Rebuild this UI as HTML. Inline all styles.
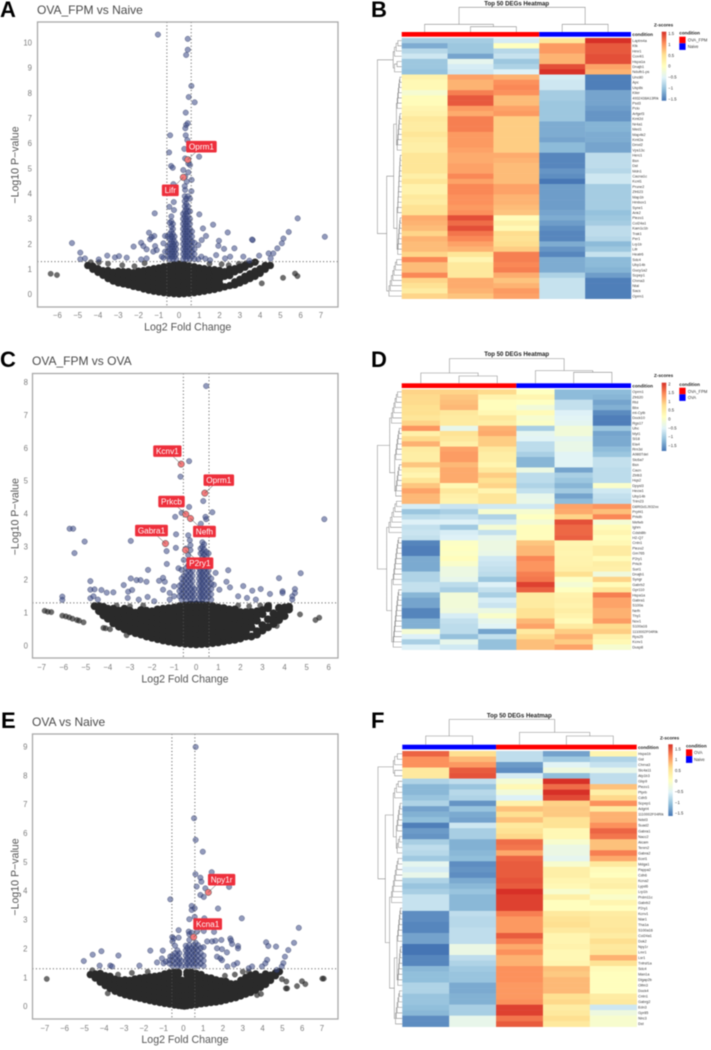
<!DOCTYPE html>
<html lang="en">
<head>
<meta charset="utf-8">
<title>Volcano plots and Top 50 DEG heatmaps</title>
<style>
html,body{margin:0;padding:0;background:#fff}
svg{display:block;font-family:"Liberation Sans",sans-serif;filter:blur(.5px)}
.panel-letter{font-size:22px;font-weight:bold;fill:#000}
.plot-title{font-size:12px;fill:#4a4a4a}
.axis-title{font-size:10.6px;fill:#555;text-anchor:middle}
.heat-title{font-size:6.1px;font-weight:bold;fill:#222;text-anchor:middle}
.bold-small{font-size:4.6px;font-weight:bold;fill:#222}
.small{font-size:4.2px;fill:#333}
</style>
</head>
<body>
<svg id="fig" xmlns="http://www.w3.org/2000/svg" width="711" height="1050" viewBox="0 0 711 1050">
<defs>
<linearGradient id="heatRamp" x1="0" y1="0" x2="0" y2="1">
<stop offset="0" stop-color="#D73027"/><stop offset=".167" stop-color="#FC8D59"/><stop offset=".333" stop-color="#FEE090"/><stop offset=".5" stop-color="#FFFFBF"/><stop offset=".667" stop-color="#E0F3F8"/><stop offset=".833" stop-color="#91BFDB"/><stop offset="1" stop-color="#4575B4"/>
</linearGradient>
</defs>
<rect width="711" height="1050" fill="#fff"/>

<text class="panel-letter" x="0" y="17">A</text>
<text class="panel-letter" x="371" y="17">B</text>
<text class="panel-letter" x="0" y="367">C</text>
<text class="panel-letter" x="371" y="367">D</text>
<text class="panel-letter" x="1" y="728">E</text>
<text class="panel-letter" x="371" y="728">F</text>

<text class="plot-title" x="37" y="14">OVA_FPM vs Naive</text>
<text class="axis-title" x="187.7" y="330.5">Log2 Fold Change</text>
<text class="axis-title" transform="translate(18.5,165) rotate(-90)">−Log10 P−value</text>

<text class="plot-title" x="32" y="365">OVA_FPM vs OVA</text>
<text class="axis-title" x="185" y="682.5">Log2 Fold Change</text>
<text class="axis-title" transform="translate(18.5,516.7) rotate(-90)">−Log10 P−value</text>

<text class="plot-title" x="32" y="726">OVA vs Naive</text>
<text class="axis-title" x="185" y="1043">Log2 Fold Change</text>
<text class="axis-title" transform="translate(18.5,877) rotate(-90)">−Log10 P−value</text>

<text class="heat-title" x="516.7" y="5.5">Top 50 DEGs Heatmap</text>
<text class="bold-small" x="632.3" y="36.2">condition</text>
<text class="bold-small" x="654" y="26.5">Z-scores</text>
<rect x="661.7" y="31.7" width="4.6" height="69" fill="url(#heatRamp)"/>
<text class="bold-small" x="679.3" y="34.5">condition</text>
<rect x="679.3" y="36.7" width="6.3" height="6.6" fill="#f00"/>
<rect x="679.3" y="43.3" width="6.3" height="6.6" fill="#00f"/>
<text class="small" x="687.7" y="41.5">OVA_FPM</text>
<text class="small" x="687.7" y="48">Naive</text>

<text class="heat-title" x="516.7" y="356">Top 50 DEGs Heatmap</text>
<text class="bold-small" x="632.3" y="387.3">condition</text>
<text class="bold-small" x="654" y="377.2">Z-scores</text>
<rect x="661.7" y="382.7" width="4.6" height="68.3" fill="url(#heatRamp)"/>
<text class="bold-small" x="679.3" y="386">condition</text>
<rect x="679.3" y="387.7" width="6.3" height="6.6" fill="#f00"/>
<rect x="679.3" y="394.3" width="6.3" height="6.6" fill="#00f"/>
<text class="small" x="687.7" y="393">OVA_FPM</text>
<text class="small" x="687.7" y="399">OVA</text>

<text class="heat-title" x="519.3" y="717.5">Top 50 DEGs Heatmap</text>
<text class="bold-small" x="638" y="749">condition</text>
<text class="bold-small" x="660" y="739.3">Z-scores</text>
<rect x="668.3" y="744.3" width="4.4" height="71.7" fill="url(#heatRamp)"/>
<text class="bold-small" x="686" y="747.5">condition</text>
<rect x="686" y="749.3" width="6.3" height="6.8" fill="#f00"/>
<rect x="686" y="756.1" width="6.3" height="6.8" fill="#00f"/>
<text class="small" x="694" y="753.8">OVA</text>
<text class="small" x="694" y="760.8">Naive</text>
</svg>

<script>
/* ---------- Volcano A: OVA_FPM vs Naive ---------- */
const aXTicks=[-6,-5,-4,-3,-2,-1,0,1,2,3,4,5,6,7];
const aYTicks=[0,1,2,3,4,5,6,7,8,9,10];
const aHitGenes=["Oprm1","Lifr"];
const aHitFC=[0.43,0.21];
const aHitP=[5.35,4.65];
/* each column: [log2FC, -log10P, -log10P, ...] */
const aNsOutliers=[[-6.33,.82],[-6.02,.77],[5.72,.83],[5.84,.73],[5.13,.66],[4.08,.44],[-3.5,1.22],[-2.8,1.16],[-2.2,1.12],[-1.7,1.24],[1.5,1.22],[2.1,1.2],[2.45,1.16],[2.95,1.22],[3.3,1.24],[-4.35,1.28],[-3.95,1.28]];
const aNsColumns=[[-4.5,1.15],[-4.25,1,1.12],[-4,.88,1.02],[-3.75,.76,.94],[-3.5,.63,.8,.95],[-3.25,.53,.7,.88],[-3,.46,.64,.82,.92],[-2.75,.42,.6,.78,.9],[-2.5,.38,.56,.74,.9],[-2.25,.32,.5,.68,.86],[-2,.28,.46,.64,.82,.92],[-1.75,.22,.4,.58,.76,.94],[-1.5,.17,.35,.53,.71,.89,.98],[-1.25,.13,.31,.49,.67,.85,1.02],[-1,.1,.28,.46,.64,.82,1,1.05],[-.75,.07,.25,.43,.61,.79,.97,1.1],[-.5,.05,.23,.41,.59,.77,.95,1.13],[-.25,.03,.21,.39,.57,.75,.93,1.11,1.18],[0,.02,.2,.38,.56,.74,.92,1.1,1.2],[.25,.03,.21,.39,.57,.75,.93,1.11,1.18],[.5,.05,.23,.41,.59,.77,.95,1.13],[.75,.07,.25,.43,.61,.79,.97,1.1],[1,.1,.28,.46,.64,.82,1,1.05],[1.25,.13,.31,.49,.67,.85,1.02],[1.5,.17,.35,.53,.71,.89,.98],[1.75,.2,.38,.56,.74,.92,.98],[2,.25,.43,.61,.79,.95],[2.25,.3,.72,.9],[2.5,.35,.75,.92,1],[2.75,.38,.5,.9,1.02],[3,.46,.6,.98,1.08],[3.25,.54,.72,1.08,1.16],[3.5,.63,.82,1.2],[3.75,.72,.92,1.28],[4,.84,1.02],[4.25,1,1.15],[4.5,1.15]];
const aSigColumns=[[-1.04,10.32],[.43,10.15,9.72],[.35,9.51],[.61,8.28],[.48,7.84],[.77,7.63],[.33,7.22,6.32],[.35,6.73],[.31,6.6],[.43,6.8],[-.44,6.32],[.41,6.13],[-.49,5.64],[.26,5.78],[.99,5.47],[-.39,5.1],[-.31,5.03],[.3,5.4,4.68,4.15],[.46,5.2,4.85],[.54,5.14],[.21,4.94],[.62,4.55],[.38,4.48],[-.28,4.38],[.61,4.1],[-.26,3.67],[-.48,3.48],[-1.2,3.22],[1,3.18],[-.25,3.35],[1.68,2.77],[1.18,2.62],[2.4,2.46],[5.85,3.02],[5.41,2.48],[7.19,2.29],[-5.28,2.04],[-4.87,1.66,1.4],[-4.64,1.43],[-3.96,1.39],[-3.54,1.54],[-3.16,1.47],[-2.96,1.52],[-2.58,1.46],[-2.24,1.9],[-1.87,2.05,1.39],[-1.76,1.92],[-1.6,1.79,1.43],[-1.48,2.45],[-1.35,2.27],[-1.22,2.32],[-1.43,2.19],[-1.18,1.92],[-1.1,1.76],[-1.27,1.7],[-.77,2.03,1.45],[-.69,2.32,1.7],[-.85,1.5],[1.12,2.16],[1.33,2.32],[.95,1.96,1.4],[1.97,2.13],[1.94,1.93],[2.22,1.81],[2.73,1.83],[3.63,2.16],[3.6,2.18],[1.83,1.56],[1.53,1.36],[2.52,1.5],[2.27,1.43],[3.17,1.5],[3.95,1.54],[3.47,1.34],[4.42,1.63],[5.15,2.22],[5.07,2.03],[4.85,1.83],[4.65,1.63],[4.52,1.43],[1.1,1.5],[1.3,1.42],
[.2,1.4,1.6,1.8,2,2.2,2.4,2.6,2.8,3,3.2],[.28,1.5,1.7,1.9,2.1,2.3,2.5,2.7,2.9,3.1,3.3,3.5,3.7,3.9,4.3],[.36,1.4,1.6,1.8,2,2.2,2.4,2.6,2.8,3,3.2,3.4,3.6,3.8],[.44,1.5,1.7,1.9,2.1,2.3,2.5,2.7,2.9,3.1,3.3,3.5,3.9],[.54,1.4,1.6,1.8,2,2.2,2.4,2.6,2.8,3,3.3,3.8],[.64,1.5,1.7,1.9,2.1,2.3,2.5],[.76,1.4,1.6,1.8,2.05],
[-.14,1.4,1.6,1.8,2],[-.22,1.5,1.7,1.9,2.1,2.3],[-.3,1.4,1.6,1.8,2,2.2,2.4,2.6,2.8],[-.38,1.5,1.7,1.9,2.1,2.3,2.5,2.7,2.9,3.1],[-.46,1.4,1.6,1.8,2,2.2,2.4,2.85],[-.56,1.5,1.7,1.9,2.3]];

/* ---------- Volcano C: OVA_FPM vs OVA ---------- */
const cXTicks=[-7,-6,-5,-4,-3,-2,-1,0,1,2,3,4,5,6];
const cYTicks=[0,1,2,3,4,5,6,7,8];
const cHitGenes=["Kcnv1","Oprm1","Prkcb","Nefh","Gabra1","P2ry1"];
const cHitFC=[-.68,.39,-.47,-.26,-1.39,-.48];
const cHitP=[5.51,4.63,3.99,3.86,3.1,2.9];
const cNsOutliers=[[-6.86,1.06],[-6.72,1.03],[-6.56,1.02],[-6.06,.91],[-5.9,.89],[-5.75,.86],[-5.6,.82],[-5.4,.78],[-5.3,.76],[-5.1,.71],[-4.2,.54],[-4.1,.53],[-3.9,.5],[4.7,.95],[5.4,.78],[5.57,.85],[-3.6,1.22],[-3,1.2],[-2.4,1.22],[1.9,1.22],[2.4,1.2],[2.9,1.22],[3.3,1.24],[-3.15,.32],[3.65,.6]];
const cNsColumns=[[-4.6,1.2],[-4.4,1.05,1.2],[-4.2,.92,1.06,1.18],[-4,.82,.98,1.12],[-3.75,.68,.84,1,1.12],[-3.5,.58,.74,.9,1.06],[-3.25,.5,.66,.82,.98,1.12],[-3,.44,.6,.76,.92,1.06],[-2.75,.38,.54,.7,.86,1],[-2.5,.34,.5,.66,.82,.98,1.08],[-2.25,.28,.44,.6,.76,.92,1.06],[-2,.24,.4,.56,.72,.88,1.04],[-1.75,.2,.36,.52,.68,.84,1,1.1],[-1.5,.16,.32,.48,.64,.8,.96,1.12],[-1.25,.13,.29,.45,.61,.77,.93,1.09,1.14],[-1,.1,.26,.42,.58,.74,.9,1.06,1.16],[-.75,.08,.24,.4,.56,.72,.88,1.04,1.2],[-.5,.06,.22,.38,.54,.7,.86,1.02,1.18,1.22],[-.25,.05,.21,.37,.53,.69,.85,1.01,1.17,1.25],[0,.04,.2,.36,.52,.68,.84,1,1.16,1.25],[.25,.05,.21,.37,.53,.69,.85,1.01,1.17,1.25],[.5,.06,.22,.38,.54,.7,.86,1.02,1.18,1.22],[.75,.08,.24,.4,.56,.72,.88,1.04,1.2],[1,.1,.26,.42,.58,.74,.9,1.06,1.16],[1.25,.13,.29,.45,.61,.77,.93,1.09,1.14],[1.5,.16,.32,.48,.64,.8,.96,1.1],[1.75,.18,.34,.5,.66,.82,.98,1.1],[2,.22,.38,.54,.7,.86,1.02],[2.25,.28,.44,.6,.76,.92,1.02],[2.5,.28,.56,.72,.88,1.02],[2.75,.34,.44,.76,.92,1.04],[3,.46,.62,.96,1.08],[3.25,.56,.8,1.14,1.2],[3.5,.66,.82,.98],[3.75,.78,.94,1.15],[4,.9,1.05,1.16],[4.2,1.1,1.18]];
const cSigColumns=[[.45,7.88,3.84],[-.32,5.6,4.21],[-.71,5.13],[.32,4.39],[.73,4.05],[-.66,4.03],[-.95,3.91],[.42,3.91],[.21,3.7],[5.8,3.84],[-5.73,3.55],[-5.57,3.55],[-5.05,3.16],[-5.51,2.81],[-2.96,3.18,2.04],[-.91,3.38],[-.36,3.35],[-.29,3.2],[-.92,2.97],[-1.34,2.87],[-1.33,2.48],[-2.18,2.3],[-.8,2.35],[1.45,2.29],[.88,2.21],[4.73,2.2],[3.75,2.05],[-4.79,1.96,1.7,1.44],[-2.7,1.99],[-2.52,1.99],[-2.25,1.94],[-1.5,2.06],[-1.68,1.97],[-1.42,1.94],[-3.28,1.84],[-3.08,1.64],[-2.9,1.69],[-4.29,1.69],[-4.05,1.61],[-3.75,1.62],[-4.6,1.71],[-4.65,1.5],[-6.06,1.49,1.39],[1.37,1.94],[1.53,1.77],[2.13,1.81],[2.92,1.72],[2.54,1.67],[3.34,1.57],[3.91,1.65,1.6],[4.47,1.72,1.6],[4.35,1.5,1.4],[1.05,1.7],[.8,1.85],[1.9,1.5],[2.3,1.45],[2.7,1.4],[-3.1,1.45],[-2.6,1.4],[-2.2,1.48],[-1.9,1.35],[-1.5,1.7],[-1.2,1.6,1.4],[-1,1.8,1.5],[-4.45,1.4],
[.12,1.4,1.56,1.72,1.88,2.04,2.2,2.36],[.2,1.48,1.64,1.8,1.96,2.12,2.28,2.44,2.6,2.8,2.95],[.28,1.4,1.56,1.72,1.88,2.04,2.2,2.36,2.52,2.68,2.84,3,3.14],[.36,1.48,1.64,1.8,1.96,2.12,2.28,2.44,2.6,2.76,2.92,3.08],[.46,1.4,1.56,1.72,1.88,2.04,2.2,2.36,2.52,2.7,2.85],[.56,1.48,1.64,1.8,1.96,2.12,2.28,2.8],[.68,1.4,1.56,1.72,1.88,2.04],
[-.08,1.4,1.56,1.72],[-.16,1.48,1.64,1.8,1.96,2.12,2.28],[-.26,1.4,1.56,1.72,1.88,2.04,2.2,2.36,2.9,3.05],[-.36,1.48,1.64,1.8,1.96,2.12,2.28,2.44,2.75],[-.46,1.4,1.56,1.72,1.88,2.04,2.2,2.36,2.95],[-.56,1.48,1.64,1.8,1.96,2.12,2.6],[-.66,1.4,1.56,1.72,1.88,2.04,2.3],[-.76,1.5,1.66,1.82]];

/* ---------- Volcano E: OVA vs Naive ---------- */
const eXTicks=[-7,-6,-5,-4,-3,-2,-1,0,1,2,3,4,5,6,7];
const eYTicks=[0,1,2,3,4,5,6,7,8,9];
const eHitGenes=["Npy1r","Kcna1"];
const eHitFC=[1.26,.52];
const eHitP=[3.95,2.4];
const eNsOutliers=[[-6.9,.95],[7.09,.96],[7.02,.96],[5.24,.62],[5.18,.62],[5.74,.7],[5.99,.87],[6.16,.77],[4.98,.94],[5.2,.86],[3.72,.39],[3.92,.43],[-3.82,.45],[-4.6,1.25],[-3.3,1.1],[-2.6,1.16],[-1.8,1.2],[2.1,1.06],[2.6,1.1],[3,1.2],[3.3,1.2]];
const eNsColumns=[[-4.7,1.1],[-4.45,.98,1.12],[-4.2,.84,1,1.14],[-3.95,.72,.9,1.06],[-3.7,.62,.78,.96,1.04],[-3.45,.52,.7,.88,.94],[-3.2,.46,.64,.82,.9],[-2.95,.4,.58,.76,.92],[-2.7,.36,.54,.72,.9],[-2.45,.32,.5,.68,.86,.95],[-2.2,.28,.46,.64,.82,.98],[-1.95,.24,.42,.6,.78,.96,1],[-1.7,.2,.38,.56,.74,.92,1.02],[-1.45,.16,.34,.52,.7,.88,1.04],[-1.2,.13,.31,.49,.67,.85,1.03,1.06],[-.95,.1,.28,.46,.64,.82,1,1.12],[-.7,.08,.26,.44,.62,.8,.98,1.16],[-.45,.05,.23,.41,.59,.77,.95,1.13,1.18],[-.25,.03,.21,.39,.57,.75,.93,1.11,1.18],[-.08,.02,.2,.38,.56,.74,.9],[.05,.01,.19,.37,.55,.73,.88],[.18,.02,.2,.38,.56,.74,.92,1.1,1.18],[.4,.04,.22,.4,.58,.76,.94,1.12,1.18],[.65,.06,.24,.42,.6,.78,.96,1.14],[.9,.09,.27,.45,.63,.81,.99,1.1],[1.15,.11,.29,.47,.65,.83,1],[1.4,.13,.31,.49,.67,.85,.98],[1.65,.15,.33,.51,.69,.87,.92],[1.9,.18,.36,.54,.72,.88],[2.15,.22,.4,.58,.76,.86],[2.4,.26,.44,.62,.78],[2.65,.3,.48,.66,.78],[2.9,.36,.54,.72,.9],[3.15,.42,.6,.78,1],[3.4,.48,.66,.84,1.08],[3.65,.56,.74,.92,1.12],[3.9,.66,.84,1.02],[4.15,.76,.94,1.12],[4.4,.9,1.08],[4.65,1.06,1.16],[4.85,1.2]];
const eSigColumns=[[.62,8.99,5.77],[.54,6.52],[.98,5.36],[.61,4.58],[.86,4.46,3.86],[.91,4.32],[1.43,4.65],[2.31,4.14],[.67,4.15],[1.11,4.09],[1.03,3.79,2.61],[-.66,3.71],[1.75,3.39],[.42,3.48,3.34],[.57,3.4,3.1],[2.95,3.05],[5.83,2.72],[.3,3.02],[1.06,3.05],[-.24,2.64,2.38],[.27,2.59],[1.55,2.58],[.69,2.59],[-.56,2.4],[-.49,2.35],[1.2,2.25],[1.45,2.25],[1.62,2.27],[2.37,2.35],[2.41,2.28],[2.46,2.16],[4.18,2.22],[4.29,2.09],[4.68,2.07],[5.59,2.2],[5.3,1.95],[2.76,2.09,2.01],[1.92,2.3],[1.7,2.01],[1.95,1.98],[-1.67,1.93],[-1.04,1.93],[-4.14,1.91],[-4.58,1.79],[-5.03,1.57],[-3.28,1.76],[-4.23,1.41],[-3.69,1.41],[-3.6,1.38],[-2.22,1.41],[-1.33,1.52],[-1.08,1.66],[-1,1.49],[-.88,1.55],[-.66,1.73],[5.13,1.72],[5.05,1.5],[4.97,1.38],[4.72,1.26],[4.23,1.61],[4.14,1.49],[3.97,1.38],[2.55,1.44],[2.72,1.5],[2.22,1.38],[1.7,1.72],[1.87,1.66],[1.95,1.6],[2.2,1.87],[3.3,1.32],[3.47,1.38],
[.12,1.4,1.58,1.76,1.94,2.1],[.2,1.48,1.66,1.84,2.02],[.3,1.4,1.58,1.76,1.94,2.12,2.3,2.5],[.42,1.48,1.66,1.84,2.02,2.55],[.52,1.4,1.58,1.76,1.94,2.12],[.62,1.48,1.66,1.84,2.02,2.2],[.74,1.4,1.58,1.76,1.94,2.12],[.88,1.48,1.66,1.84,2.02],[1.02,1.4,1.58,1.76,2.05],
[-.1,1.4,1.58],[-.2,1.48,1.66,1.84],[-.3,1.4,1.58,1.76,1.94],[-.42,1.48,1.66,1.84,2.1],[-.55,1.4,1.58,1.76,2.25],[-.7,1.48,1.6]];

/* ---------- Heatmap B ---------- */
const bGenes=["Laptm4a","Ktk","Hmr1","Cox4i1","Hspa1a","Dnajb1","Ndufb1-ps","Unc80","Apc","Usp8s","Kiler","4932438A13Rik","Psd3","Pclo","Arfgef3","Kmt2d","Nr4a1","Med1","Map4k2","Kmt2a","Dmxl2","Vps13c","Herc1","Bsn","Dst","Mdn1","Cacna1c","Kcnt1","Prune2","Zfr623","Map1b","Hmbox1","Syne1","Ank2","Piezo1","Col24a1","Kam1c1b","Trak1","Per1","Lrp1b","Lifr","Heatr6","Sdc4","Ubp14b","Gucy1a2","Scpep1","Chrna3","Ntal","Sacs","Oprm1"];
const bLegendTicks=[1.5,1,0.5,0,-0.5,-1,-1.5];
const bZ=[[-.85,-.85,-.55,.4,1.5],[-1.1,-.9,0,.9,1.25],[-.75,-.9,-.75,.9,1.25],[-.6,-1.15,-.65,.75,1.3],[-.9,-.4,-.9,.75,1.3],[-.9,-.55,-.8,1.3,.85],[-.95,-.6,-.5,1.45,.75],[.2,.85,.75,-.55,-1.4],[.1,.75,.95,-.6,-1.4],[.1,.75,1,-.6,-1.4],[-.15,1.05,.95,-.85,-1.15],[.05,1.25,.7,-.85,-1.15],[.05,1.25,.7,-.9,-1.15],[.15,.9,.85,-.9,-1.2],[.2,.8,.9,-.9,-1.25],[.35,1.05,.6,-.9,-1.25],[.3,1.05,.6,-1.1,-1.05],[.3,1.05,.6,-1.1,-1.05],[.4,.9,.6,-1.1,-1.1],[.3,.9,.6,-1.15,-1.1],[.25,.9,.6,-1,-1.15],[.25,.85,.6,-1,-1.15],[.4,.8,.8,-1.35,-.7],[.4,.8,.75,-1.35,-.7],[.4,.85,.7,-1.35,-.7],[.4,.85,.7,-1.25,-.75],[.25,1,.7,-1.3,-.6],[.4,.85,.7,-1.45,-.6],[.2,1,.85,-1.2,-.85],[.2,1,.85,-1.2,-.85],[.35,.95,.75,-1.2,-.85],[.3,.95,.75,-1.2,-.85],[.45,.9,.7,-1.2,-.85],[.45,.95,.65,-1.15,-.95],[.8,1.3,.05,-1.1,-.9],[.75,1.15,.25,-1.2,-.85],[.7,1.3,.1,-1.3,-.7],[.55,1.1,.5,-1.35,-.7],[.75,1,.45,-1.35,-.75],[.7,.85,.5,-1.1,-1],[.7,.75,.6,-1.25,-.9],[.55,.4,1.05,-1.35,-.65],[1,.15,1.05,-1.1,-1],[.7,.35,1,-1.1,-1],[.7,.35,1.05,-1.1,-1.05],[1,.35,.8,-.8,-1.2],[.55,.8,.65,-.65,-1.4],[.45,.8,.75,-.65,-1.4],[.3,.75,.9,-.65,-1.4],[.55,.65,.85,-.65,-1.4]];

/* ---------- Heatmap D ---------- */
const dGenes=["Oprm1","Zfr620","Rtd","Bbx","mt-Cytb","Dock10","Rgs17","Ubc","Myt1","Sl18","Ela4","Rrn3d","A986Tdel","Slc6a7","Bsn","Cacn","Zbtb3","Hqs2","Dpysl3","Hecw1","Ubp14b","Trim23","D8Rt3d1J932xx","Prpf41","Prkdb","Mefwb","Ighm","Cdsb8lb","H2-Q7","Cntn1","Piezo2","Gm765","P2ry1","Prkcb","Sorl1","Dnajb1","Syngr","Gabrb2","Gpr110","Hspa1a","Gabra1","S100a","Nefh","Thy1","Nov1","S100a16","1110002F04Rik","Rps25","Kcnv1","Dusp8"];
const dLegendTicks=[2,1.5,1,0.5,0,-0.5,-1,-1.5];
const dZ=[[.8,.8,.75,.1,-1.1,-1.1],[.75,.9,.35,.3,-1.1,-1.15],[.75,.95,.15,.1,-.7,-1.3],[.7,1,.15,-.15,-.7,-1.2],[.7,.55,.25,.2,-.5,-1.5],[.6,.5,.55,-.05,-.45,-1.6],[.8,.5,.45,.05,-.4,-1.6],[1.25,-.35,1.05,-.9,-.15,-1],[.4,.65,1.1,-.4,-.15,-1.3],[.75,.55,.85,-.45,-.4,-1.25],[1.05,.4,.85,-.75,-.3,-1.25],[.5,1.15,.55,-.75,-.3,-1.1],[.45,1.2,.45,-.9,-.45,-1],[.45,1.2,.45,-1.15,-.45,-.7],[.9,1,.3,-1.15,-.45,-.7],[.45,1.1,.55,-.25,-1.3,-.75],[.3,1.1,.85,-.75,-.9,-.75],[.6,1.1,.7,-.75,-1,-.75],[.9,.25,.8,-.85,-1.15,0],[1.15,.55,.3,-.7,-.95,-.6],[1,.4,.6,-.35,-1.3,-.7],[1,.35,.6,-.3,-1.1,-.75],[-.55,-.65,-.6,-.6,1.15,1.25],[-1,-.9,-.05,-.05,1.1,.95],[-.75,-.7,-.85,.1,.8,1.35],[-.5,-.5,-.6,-.1,1.7,-.1],[-.7,-.95,-.1,.15,1.55,.2],[-.65,-.55,-.7,.15,1.55,.3],[-.7,-.5,-.35,.15,1.6,.15],[-1.55,.05,-.25,.9,.3,.25],[-1.6,.1,-.25,1,.35,.5],[-1.6,.05,-.3,1,.3,.5],[-1.25,.15,-.6,1.35,.35,.2],[-1.25,0,-.65,1.25,.35,.45],[-1.25,-.25,-.7,1.25,.4,.4],[-.85,-.25,-.75,1.4,.7,-.2],[-.85,-.35,-1,1.45,.05,.8],[-.7,-.75,-.5,1.8,-.1,.2],[-.7,-.9,-.7,1.6,.1,.6],[-1.15,-.15,-.9,.5,.35,1.4],[-1.3,-.15,-.55,.5,.4,1.15],[-1.3,-.15,-.65,.5,.35,1.15],[-1.55,-.2,-.25,.65,.45,1.05],[-1.55,-.55,0,.65,.35,1.05],[-1.2,-.7,-.35,1,.2,1.2],[-1.2,-.75,-.45,1.15,.5,.75],[-.1,-.75,-1.3,.5,.85,.85],[-.5,-1.05,-.7,.75,1.05,.4],[-.9,-.35,-1.05,.95,.85,.25],[-.5,-.6,-1.05,.95,1.15,-.05]];

/* ---------- Heatmap F ---------- */
const fGenes=["Hspa1b","Gst","Chrna3","Slc4a11","Atp1b3","Gbp9","Piezo1","Ptprb","Cdh5","Scpep1","Adgrl4","1110002F04Rik","Ndst3","Suad2","Gabra1","Nacc2","Aicam","Tenm2","Gabra2","Ecel1","Mdga1","Pappa2","Cdh6","Kcna2","Lypd6","Lrp1b","Prdm11c","Gabrb2","P2ry1","Kcnv1","Nlar1","Tha1a","S100a16","Col24a1","Dok2","Npy1r","Lmr1","Lsr1","Tnfrsf1a","Sdc4","Man1a","Dlgap2b","Olfm3","Dock4","Cntn1","Gabrg2","Edn3","Gpr85","Nlrc3","Dst"];
const fLegendTicks=[1.5,1,0.5,0,-0.5,-1,-1.5];
const fZ=[[1.3,.55,-.7,-1.2,.2],[1.05,.8,-.7,-.9,-.8],[1.05,1,-1.25,-.45,-.65],[.4,1.35,-1.35,-.25,-.35],[.4,1.4,-.55,-1,-.7],[-.8,-.7,-.15,1.65,-.7],[-1.05,-.95,.15,1.25,.75],[-1.05,-.75,-.2,1.6,.3],[-.95,-.8,-.5,1.45,.6],[-.8,-1.3,.25,.65,1.05],[-1.2,-.95,.75,.7,.4],[-1.1,-1.15,.55,.7,.85],[-1,-1.2,.75,.5,.85],[-1.45,-.6,.4,.5,1.05],[-1.25,-.85,.5,.15,1.3],[-1.3,-.85,.6,.15,1.2],[-.85,-1.1,1.25,-.1,.75],[-.7,-1.1,1.2,-.3,.75],[-.75,-1.05,.9,-.3,1.15],[-.9,-1,1.3,-.4,.9],[-.4,-1.35,1.35,-.1,.4],[-.55,-1.3,1.35,.3,.1],[-.35,-1.35,1.35,.3,.05],[-.8,-1.15,1.4,.2,.25],[-.95,-1.05,1.35,.15,.3],[-.85,-.95,1.65,-.1,.1],[-.65,-1.05,1.5,.3,-.05],[-.65,-1.05,1.5,.05,.2],[-.65,-1.05,1.5,.05,.05],[-1.35,-.7,1.15,.4,.35],[-1.35,-.75,1,.5,.4],[-1.4,-.75,1,.55,.4],[-1.4,-.7,1,.4,.45],[-1.2,-.7,1.35,.2,.35],[-1.2,-.7,1.15,.2,.55],[-1.55,-.3,.9,.25,.4],[-1.55,-.3,1.05,.15,.45],[-1.4,-.7,.85,.15,.85],[-1.4,-.8,.85,.2,.5],[-1.05,-.9,1.05,.75,.1],[-1,-.95,1.05,.7,.05],[-1,-.95,1.05,.8,.05],[-.8,-1.15,1,.8,.05],[-.8,-1.15,1,.8,.05],[-.95,-1.1,1,.55,.35],[-.95,-1.1,1.05,.6,.4],[-1,-.85,1.5,.35,-.6],[-1.05,-.85,1.5,.4,-.25],[-1.35,-.35,1.2,.55,-.1],[-1.35,-.35,1.35,.4,-.1]];

/* Dendrogram shapes: [height, childA, childB]; a number is a cluster of that many leaves */
const bRowTree=[24.3,[8.5,4,3],[15,[8,[5.3,7,8],[4.7,12,8]],8]];
const dRowTree=[24.3,[12,7,[7,7,7]],[15,7,[10,10,12]]];
const fRowTree=[24.3,[9,3,2],[17,[9,4,[6,6,4]],[12.7,9,[8,[5.3,7,8],7]]]];
const bColTree=[24.7,[7.7,0,[5.3,1,2]],[7.7,3,4]];
const dColTree=[24.7,[10.3,0,[7.3,1,2]],[12.7,3,[11,4,5]]];
const fColTree=[25.3,[8.7,0,1],[12.3,2,[8.7,3,4]]];

const NS='http://www.w3.org/2000/svg';
const fig=document.getElementById('fig');
function mk(tag,parent,attrs){
  const el=document.createElementNS(NS,tag);
  for(const k in attrs)el.setAttribute(k,attrs[k]);
  parent.appendChild(el);
  return el;
}
function minus(v){return String(v).replace('-','\u2212');}

function drawVolcano(key,frame,dom,xTicks,yTicks,outliers,nsCols,sigCols,genes,hitFC,hitP,labelOffsets,tickCfg){
  const g=mk('g',fig,{});
  
  
  const X=v=>frame.l+(v-dom.x0)/(dom.x1-dom.x0)*(frame.r-frame.l);
  const Y=v=>frame.b-(v-dom.y0)/(dom.y1-dom.y0)*(frame.b-frame.t);

  outliers.forEach(col=>{
    col.slice(1).forEach(p=>{
      const c=mk('circle',g,{cx:X(col[0]),cy:Y(p),r:2.7,fill:'rgba(40,40,40,.68)',stroke:'rgba(30,30,30,.6)','stroke-width':.4});
      
      
    });
  });
  nsCols.forEach(col=>{
    col.slice(1).forEach(p=>{
      const c=mk('circle',g,{cx:X(col[0]),cy:Y(p),r:tickCfg.massR,fill:'#2a2a2a'});
      
      
    });
  });
  sigCols.forEach(col=>{
    col.slice(1).forEach(p=>{
      const c=mk('circle',g,{cx:X(col[0]),cy:Y(p),r:2.7,fill:'rgba(60,75,135,.56)',stroke:'rgba(28,38,80,.62)','stroke-width':.5});
      
      
    });
  });

  [-dom.fc,dom.fc].forEach(v=>{
    const l=mk('line',g,{x1:X(v),x2:X(v),y1:frame.t,y2:frame.b,stroke:'#555','stroke-width':1,'stroke-dasharray':'1 2.4'});
    
    
  });
  const pl=mk('line',g,{x1:frame.l,x2:frame.r,y1:Y(dom.p),y2:Y(dom.p),stroke:'#555','stroke-width':1,'stroke-dasharray':'1 2.4'});
  
  

  const fr=mk('rect',g,{x:frame.l,y:frame.t,width:frame.r-frame.l,height:frame.b-frame.t,fill:'none',stroke:'#a9a9a9','stroke-width':1.3});
  
  

  xTicks.forEach(v=>{
    const t=mk('text',g,{x:X(v),y:tickCfg.xy,'font-size':7.8,fill:'#7d7d7d','text-anchor':'middle'});
    t.textContent=minus(v);
    
    
  });
  yTicks.forEach(v=>{
    const t=mk('text',g,{x:tickCfg.yx,y:Y(v)+2.8,'font-size':7.8,fill:'#7d7d7d','text-anchor':'end'});
    t.textContent=minus(v);
    
    
  });

  genes.forEach((gene,i)=>{
    const hx=X(hitFC[i]),hy=Y(hitP[i]),lx=hx+labelOffsets[i][0],ly=hy+labelOffsets[i][1];
    const m=mk('circle',g,{cx:hx,cy:hy,r:3.2,fill:'#f27a7c',stroke:'#4a4a4a','stroke-width':.5});
    
    
    const cn=mk('line',g,{x1:hx,y1:hy,x2:lx,y2:ly,stroke:'#444','stroke-width':.5});
    
    
    const r=mk('rect',g,{x:lx-14,y:ly-5.8,width:28,height:11.6,rx:1.4,fill:'#ee2f3c'});
    
    
    const t=mk('text',g,{x:lx,y:ly+2.9,'font-size':8.2,fill:'#fff','text-anchor':'middle'});
    t.textContent=gene;
    
    
    const w=t.getComputedTextLength()+5.5;
    r.setAttribute('x',lx-w/2);
    r.setAttribute('width',w);
  });
}

const paletteStops=[[69,117,180],[145,191,219],[224,243,248],[255,255,191],[254,224,144],[252,141,89],[215,48,39]];
const colorGain=1.08;
function heatColor(z,vmin,vmax){
  let t=(z*colorGain-vmin)/(vmax-vmin)*6;
  t=Math.max(0,Math.min(5.999,t));
  const i=Math.floor(t),f=t-i,a=paletteStops[i],b=paletteStops[i+1];
  return 'rgb('+a.map((c,k)=>Math.round(c+(b[k]-c)*f)).join(',')+')';
}

function drawHeatmap(key,box,scale,matrix,genes,groups,rowTree,colTree,legend,legendTicks){
  const g=mk('g',fig,{});
  
  
  const nCols=matrix[0].length,nRows=matrix.length;
  const cw=(box.r-box.l)/nCols,rh=(box.b-box.t)/nRows;
  const CX=c=>box.l+c*cw,RY=r=>box.t+r*rh;

  matrix.forEach((row,r)=>{
    row.forEach((z,c)=>{
      const rc=mk('rect',g,{x:CX(c),y:RY(r),width:cw+.25,height:rh+.25,fill:heatColor(z,scale.min,scale.max)});
      
      
    });
    const t=mk('text',g,{x:box.r+1.4,y:RY(r)+rh/2+1.3,'font-size':3.7,fill:'#333'});
    t.textContent=genes[r];
    
    
  });

  groups.forEach(gr=>{
    const a=mk('rect',g,{x:CX(gr[0]),y:box.barT,width:CX(gr[1])-CX(gr[0]),height:box.barH,fill:gr[2]});
    
    
  });

  let d='';
  let nextLeaf=0;
  function rowNode(n,cap){
    if(typeof n==='number'){
      let y=RY(nextLeaf)+rh/2,h=0;nextLeaf++;
      for(let i=1;i<n;i++){
        const ny=RY(nextLeaf)+rh/2;nextLeaf++;
        const nh=cap*(0.25+0.6*i/Math.max(1,n-1));
        const x=box.l-nh;
        d+='M'+(box.l-h)+' '+y+'H'+x+'V'+ny+'H'+box.l;
        y=(y+ny)/2;h=nh;
      }
      return {y:y,h:h};
    }
    const a=rowNode(n[1],n[0]),b=rowNode(n[2],n[0]);
    const x=box.l-n[0];
    d+='M'+(box.l-a.h)+' '+a.y+'H'+x+'V'+b.y+'H'+(box.l-b.h);
    return {y:(a.y+b.y)/2,h:n[0]};
  }
  rowNode(rowTree,rowTree[0]);
  const rd=mk('path',g,{d:d,fill:'none',stroke:'#8a8a8a','stroke-width':.55});
  
  

  let dc='';
  function colNode(n){
    if(typeof n==='number')return {x:CX(n)+cw/2,h:0};
    const a=colNode(n[1]),b=colNode(n[2]);
    const y=box.barT-n[0];
    dc+='M'+a.x+' '+(box.barT-a.h)+'V'+y+'H'+b.x+'V'+(box.barT-b.h);
    return {x:(a.x+b.x)/2,h:n[0]};
  }
  colNode(colTree);
  const cd=mk('path',g,{d:dc,fill:'none',stroke:'#8a8a8a','stroke-width':.55});
  
  

  legendTicks.forEach(v=>{
    const y=legend.t+(scale.max-v)/(scale.max-scale.min)*(legend.b-legend.t);
    const t=mk('text',g,{x:legend.x,y:y+1.5,'font-size':4.2,fill:'#333'});
    t.textContent=minus(v);
    
    
  });
}

drawVolcano('a',{l:37.5,r:338,t:22,b:307},{x0:-6.98,x1:7.84,y0:-.5,y1:10.82,fc:.6,p:1.3},aXTicks,aYTicks,aNsOutliers,aNsColumns,aSigColumns,aHitGenes,aHitFC,aHitP,[[13.7,-13],[-13,13]],{xy:318,yx:32,massR:3.7});
drawVolcano('c',{l:32.5,r:338,t:373.5,b:658},{x0:-7.41,x1:6.42,y0:-.373,y1:8.26,fc:.58,p:1.3},cXTicks,cYTicks,cNsOutliers,cNsColumns,cSigColumns,cHitGenes,cHitFC,cHitP,[[-13.8,-13],[14,-13],[-14.3,-12.7],[14,13],[-14,-13],[14.3,13]],{xy:670,yx:28,massR:4});
drawVolcano('e',{l:32.5,r:338,t:734,b:1019},{x0:-7.62,x1:7.81,y0:-.44,y1:9.44,fc:.58,p:1.3},eXTicks,eYTicks,eNsOutliers,eNsColumns,eSigColumns,eHitGenes,eHitFC,eHitP,[[13.3,-12.7],[14,-13]],{xy:1031,yx:27.5,massR:3.7});

drawHeatmap('b',{l:401.7,r:631,t:38,b:298.7,barT:32,barH:4.7},{min:-1.58,max:1.58},bZ,bGenes,[[0,3,'#f00'],[3,5,'#00f']],bRowTree,bColTree,{x:668.3,t:31.7,b:100.7},bLegendTicks);
drawHeatmap('d',{l:401.7,r:631,t:389.3,b:649.7,barT:383.3,barH:4.7},{min:-1.81,max:2.06},dZ,dGenes,[[0,3,'#f00'],[3,6,'#00f']],dRowTree,dColTree,{x:668.3,t:382.7,b:451},dLegendTicks);
drawHeatmap('f',{l:402.3,r:636.7,t:751,b:1026.7,barT:744.7,barH:4.7},{min:-1.64,max:1.72},fZ,fGenes,[[0,2,'#00f'],[2,5,'#f00']],fRowTree,fColTree,{x:675,t:744.3,b:816},fLegendTicks);
</script>
</body>
</html>
